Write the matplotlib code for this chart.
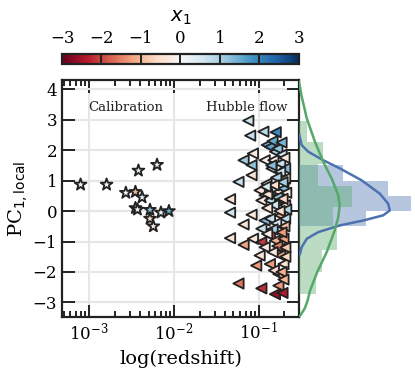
import numpy as np
import matplotlib
matplotlib.use('Agg')
import matplotlib.pyplot as plt
from matplotlib.colors import Normalize

plt.rcParams['font.family'] = ['DejaVu Serif']
plt.rcParams['axes.unicode_minus'] = True

# calibration sample (stars)
cal_z = [7.9e-4, 1.6e-3, 3.8e-3, 6.3e-3, 2.7e-3, 3.5e-3, 4.2e-3, 3.5e-3, 3.7e-3,
         5.2e-3, 5.2e-3, 5.7e-3, 7.0e-3, 8.7e-3]
cal_pc1 = [0.87, 0.87, 1.33, 1.52, 0.60, 0.63, 0.45, 0.10, 0.05, 0.04, -0.25,
           -0.50, -0.05, 0.0]
cal_x1 = [0.2, 0.1, 0.5, 0.3, 0.0, -1.0, 0.3, 0.4, 0.2, 1.2, -0.6, -0.3, 0.2, 1.5]

# hubble flow sample (triangles)
hf_z = [0.075, 0.079, 0.113, 0.158, 0.124, 0.135, 0.155, 0.066, 0.085, 0.082,
        0.082, 0.117, 0.148, 0.178, 0.204, 0.141, 0.178, 0.204, 0.0575, 0.123,
        0.102, 0.117, 0.141, 0.170, 0.195, 0.0457, 0.107, 0.135, 0.178, 0.204,
        0.0457, 0.082, 0.117, 0.135, 0.178, 0.204, 0.066, 0.107, 0.0457, 0.066,
        0.085, 0.107, 0.135, 0.155, 0.195, 0.102, 0.117, 0.178, 0.135, 0.093,
        0.178, 0.195, 0.170, 0.0575, 0.107, 0.170, 0.155, 0.190,
        0.145, 0.165, 0.185, 0.200, 0.160, 0.190, 0.150, 0.210, 0.165, 0.125,
        0.190, 0.150, 0.210, 0.175, 0.125, 0.160, 0.200, 0.145, 0.185, 0.125,
        0.165, 0.205, 0.145, 0.205, 0.150, 0.185, 0.195, 0.140, 0.120, 0.185]
hf_pc1 = [2.97, 2.48, 2.61, 2.59, 2.17, 2.11, 1.95, 1.67, 1.89, 1.51,
          1.18, 1.67, 1.67, 1.56, 1.40, 1.40, 1.29, 1.07, 0.96, 0.90,
          0.68, 0.52, 0.68, 0.63, 0.74, 0.39, 0.35, 0.35, 0.35, 0.19,
          -0.05, -0.12, -0.31, -0.25, -0.14, -0.25, -0.44, -0.58, -0.89, -1.11,
          -0.91, -1.02, -0.80, -0.97, -0.91, -1.46, -1.19, -1.24, -1.74, -1.79,
          -1.46, -1.74, -2.07, -2.38, -2.54, -2.45, -2.73, -2.69,
          2.30, 2.05, 1.85, 1.75, 1.10, 0.95, 0.85, 0.60, 0.45, 0.55,
          0.40, 0.20, 0.05, 0.00, 0.10, -0.40, -0.50, -0.60, -0.70, -0.75,
          -1.15, -1.20, -1.35, -1.50, -1.95, -2.00, -2.25, 1.50, 0.80, 2.25]
hf_x1 = [0.6, 0.7, 0.8, 1.9, 1.4, 1.6, 0.9, 1.1, -0.3, 1.2,
         -0.4, -0.2, -0.3, 0.7, 1.3, 0.8, 0.6, -0.4, 0.7, -0.3,
         -0.3, 0.7, 0.6, -0.4, 1.3, -0.4, -0.3, 0.7, 0.8, -0.5,
         0.6, -0.3, 1.3, 0.7, -1.1, 0.8, -0.4, 0.7, -0.4, -1.2,
         -0.3, -2.1, -2.0, -1.1, -1.2, -0.4, -0.3, -0.4, -1.3, -1.3,
         -1.2, -0.4, -1.2, -1.6, -2.2, -1.3, -2.6, -2.4,
         1.5, 1.2, 0.5, -0.3, 0.9, 1.0, -0.5, -0.3, 1.1, -0.4,
         -0.6, 0.6, 0.9, -0.5, -0.3, 0.5, -0.9, 1.0, -1.3, -0.2,
         -1.5, -0.8, -0.3, -0.6, -0.5, -1.1, -1.0, 1.3, 0.5, 1.4]

# marginal distributions (density)
blue_edges = [-0.5, 0.0, 0.5, 1.0, 1.5]
blue_dens = [0.432, 0.723, 0.574, 0.284]
green_edges = [-2.71, -2.00, -1.29, -0.58, 0.13, 0.84, 1.55, 2.26, 2.97]
green_dens = [0.110, 0.150, 0.243, 0.219, 0.340, 0.123, 0.157, 0.054]
blue_kde_y = [2.50, 2.17, 1.95, 1.67, 1.40, 1.01, 0.57, 0.24, 0.02, -0.14,
              -0.31, -0.47, -0.69, -0.91, -1.19, -1.41]
blue_kde_d = [0.002, 0.017, 0.060, 0.157, 0.265, 0.405, 0.523, 0.577, 0.587,
              0.544, 0.415, 0.265, 0.125, 0.050, 0.017, 0.006]
green_kde_y = [4.25, 3.82, 3.05, 2.28, 1.62, 1.07, 0.55, 0.20, -0.20, -0.65,
               -1.35, -2.00, -2.62, -2.95, -3.20, -3.45]
green_kde_d = [0.0, 0.015, 0.050, 0.103, 0.157, 0.211, 0.252, 0.263, 0.254,
               0.230, 0.179, 0.118, 0.071, 0.055, 0.037, 0.006]

cmap = plt.get_cmap('RdBu')
norm = Normalize(vmin=-3, vmax=3)

fig = plt.figure(figsize=(4.15, 3.71), dpi=100)
ax = fig.add_axes([0.1494, 0.1456, 0.571, 0.639])
cax = fig.add_axes([0.1494, 0.8267, 0.571, 0.027])
mx = fig.add_axes([0.7205, 0.1456, 0.2795, 0.639], sharey=ax)

ax.grid(True, which='major', color='#e6e6e6', lw=1.5, zorder=0)
ax.set_axisbelow(True)
ax.scatter(cal_z, cal_pc1, c=cal_x1, cmap=cmap, norm=norm, marker='*', s=80,
           edgecolors='#222222', linewidths=1.3, zorder=3)
ax.scatter(hf_z, hf_pc1, c=hf_x1, cmap=cmap, norm=norm, marker='<', s=55,
           edgecolors='#222222', linewidths=1.3, zorder=3)
ax.set_xscale('log')
ax.set_xlim(4.77e-4, 0.297)
ax.set_ylim(-3.48, 4.31)
ax.set_yticks([-3, -2, -1, 0, 1, 2, 3, 4])
ax.tick_params(which='both', direction='in', top=True, right=True,
               labelsize=12, width=1.4, color='#222222')
ax.tick_params(which='major', length=9)
ax.tick_params(which='minor', length=4.5)
for sp in ax.spines.values():
    sp.set_linewidth(1.6)
    sp.set_color('#222222')
ax.set_xlabel('log(redshift)', fontsize=14)
ax.set_ylabel(r'PC$_{1,\rm local}$', fontsize=14, labelpad=2)
ax.text(0.27, 0.885, 'Calibration', transform=ax.transAxes, ha='center',
        va='center', fontsize=9.5, color='#222222')
ax.text(0.78, 0.885, 'Hubble flow', transform=ax.transAxes, ha='center',
        va='center', fontsize=9.5, color='#222222')

# colorbar
sm = plt.cm.ScalarMappable(cmap=cmap, norm=norm)
cb = fig.colorbar(sm, cax=cax, orientation='horizontal')
cb.set_ticks([-3, -2, -1, 0, 1, 2, 3])
cax.xaxis.set_ticks_position('top')
cax.xaxis.set_label_position('top')
cax.tick_params(direction='in', length=7.3, width=1.4, color='#222222',
                labelsize=12, pad=5)
cb.outline.set_linewidth(1.6)
cb.outline.set_edgecolor('#222222')
cb.set_label('$x_1$', fontsize=14, labelpad=6)

# marginal
mx.barh(blue_edges[:-1], blue_dens, height=np.diff(blue_edges), align='edge',
        color='#4c72b0', alpha=0.4, lw=0)
mx.barh(green_edges[:-1], green_dens, height=np.diff(green_edges), align='edge',
        color='#55a868', alpha=0.4, lw=0)
mx.plot(blue_kde_d, blue_kde_y, color='#4c72b0', lw=1.8)
mx.plot(green_kde_d, green_kde_y, color='#55a868', lw=1.8)
mx.set_xlim(0, 0.75)
mx.axis('off')

fig.savefig('out.png', dpi=100)
